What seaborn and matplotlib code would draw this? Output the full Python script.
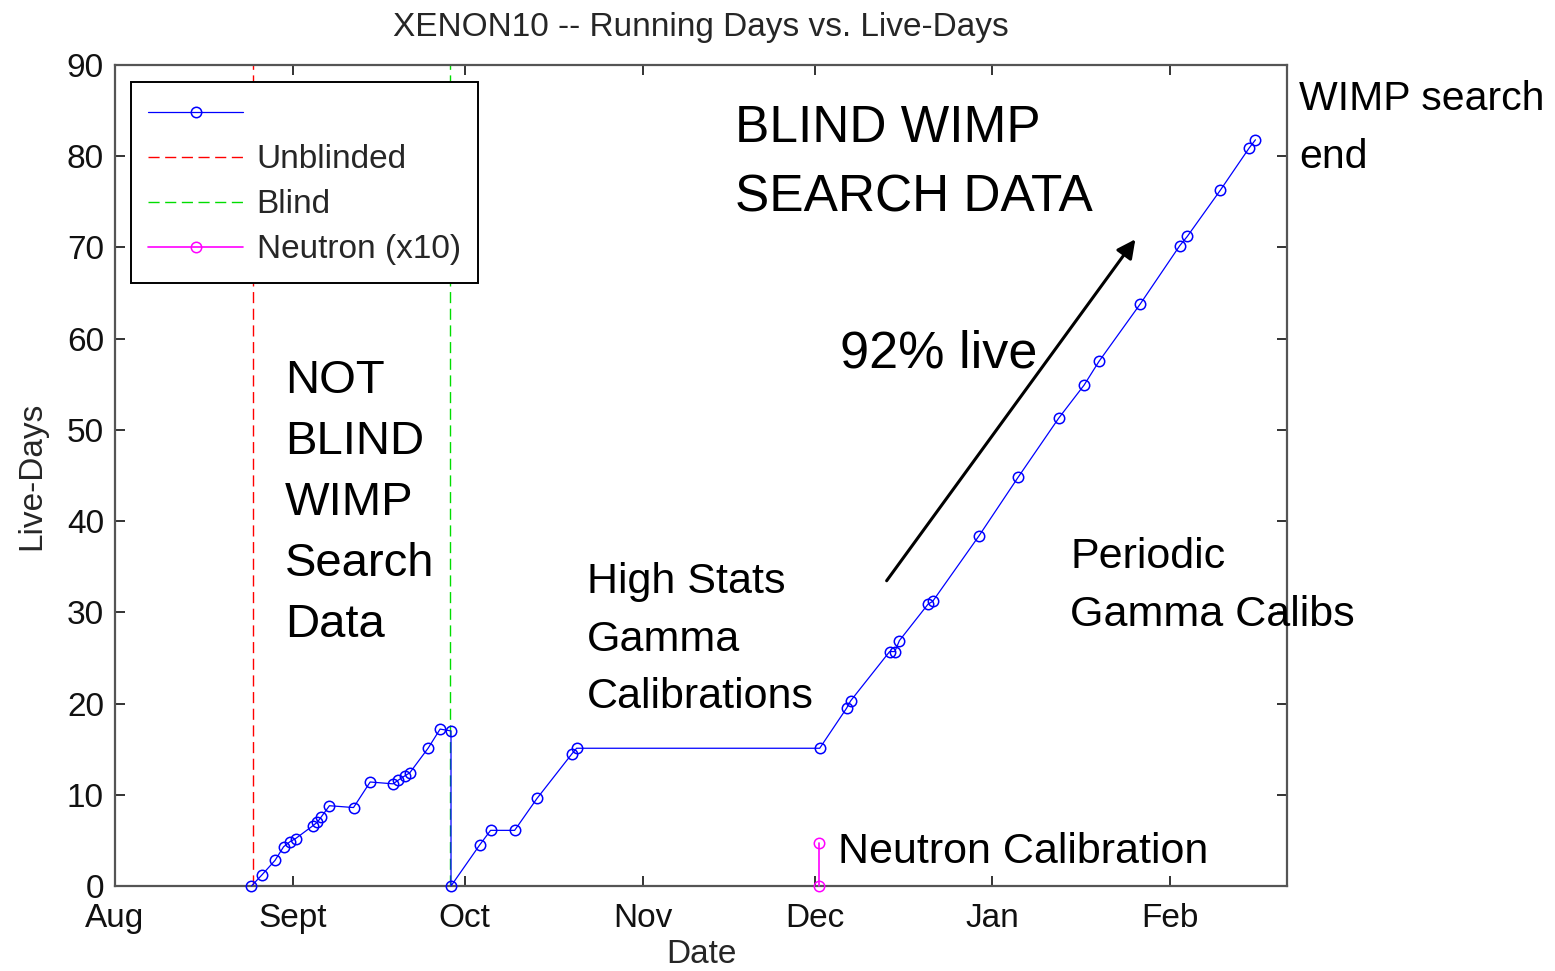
import pandas as pd
import matplotlib
matplotlib.use('Agg')
from matplotlib import pyplot as plt
import seaborn as sns

sns.set_style('ticks')
plt.rcParams['font.family'] = ['Liberation Sans', 'DejaVu Sans']

start = pd.Timestamp('2006-08-01')

# days after Aug 1 and accumulated live-days
run_days = [23.8, 25.6, 27.9, 29.4, 30.5, 31.5, 34.5, 35.3, 36.0, 37.4,
            41.6, 44.5, 48.5, 49.4, 50.6, 51.4, 54.6, 56.7, 58.6, 58.6,
            63.6, 65.5, 69.7, 73.6, 79.7, 80.5, 122.9, 127.6, 128.3, 135.1,
            136.0, 136.8, 141.8, 142.6, 150.7, 157.5, 164.6, 169.0, 171.6, 178.8,
            185.7, 187.0, 192.8, 197.8, 198.9]
live_days = [0.0, 1.2, 2.8, 4.3, 4.85, 5.2, 6.6, 7.0, 7.6, 8.8,
             8.6, 11.4, 11.2, 11.6, 12.1, 12.4, 15.1, 17.2, 17.0, 0.0,
             4.5, 6.1, 6.1, 9.6, 14.5, 15.1, 15.1, 19.5, 20.3, 25.7,
             25.7, 26.9, 30.9, 31.2, 38.4, 44.8, 51.3, 54.9, 57.5, 63.8,
             70.2, 71.2, 76.3, 80.9, 81.8]

unblind_day = 24.1
blind_day = 58.5
neutron_days = [122.8, 122.8]
neutron_live = [0.0, 4.7]

month_labels = ['Aug', 'Sept', 'Oct', 'Nov', 'Dec', 'Jan', 'Feb']
month_starts = pd.date_range('2006-08-01', periods=7, freq='MS')
y_ticks = list(range(0, 100, 10))
legend_labels = ['', 'Unblinded', 'Blind', 'Neutron (x10)']
x_end_day = 204.4


def to_date(days):
    return start + pd.to_timedelta(days, unit='D')


runs = pd.DataFrame({'date': to_date(run_days), 'live': live_days})
neutron = pd.DataFrame({'date': to_date(neutron_days), 'live': neutron_live})
unblind = pd.DataFrame({'date': to_date([unblind_day] * 2), 'live': [0, 90]})
blind = pd.DataFrame({'date': to_date([blind_day] * 2), 'live': [0, 90]})

W, H = 1555, 971
fig = plt.figure(figsize=(W / 100, H / 100), dpi=100)
ax = fig.add_axes([115 / W, 1 - 886 / H, (1287 - 115) / W, (886 - 65) / H])

mk = dict(marker='o', markersize=7.5, markerfacecolor='none', markeredgewidth=1.1)
sns.lineplot(data=runs, x='date', y='live', ax=ax, color='#0000ff', lw=0.9,
             estimator=None, sort=False, clip_on=False, zorder=4,
             markeredgecolor='#0000ff', **mk)
sns.lineplot(data=unblind, x='date', y='live', ax=ax, color='#ff0000', lw=1,
             estimator=None, sort=False)
sns.lineplot(data=blind, x='date', y='live', ax=ax, color='#00dd00', lw=1,
             estimator=None, sort=False)
sns.lineplot(data=neutron, x='date', y='live', ax=ax, color='#ff00ff', lw=1.2,
             estimator=None, sort=False, clip_on=False, zorder=5,
             markeredgecolor='#ff00ff', **mk)
for ln in ax.lines[1:3]:
    ln.set_linestyle((0, (8, 4)))

ax.set_xlim(start, to_date(x_end_day))
ax.set_ylim(0, 90)
ax.set_xticks(month_starts)
ax.set_xticklabels(month_labels)
ax.set_yticks(y_ticks)
ax.tick_params(direction='in', length=7, width=1.2, labelsize=24, colors='#111111',
               top=True, right=True)
ax.tick_params(axis='x', pad=12)
ax.tick_params(axis='y', pad=8)
for sp in ax.spines.values():
    sp.set_visible(True)
    sp.set_color('#555555')
    sp.set_linewidth(1.6)

ax.set_title('XENON10 -- Running Days vs. Live-Days', fontsize=24, pad=21)
ax.set_xlabel('Date', fontsize=24, labelpad=4)
ax.set_ylabel('Live-Days', fontsize=24, labelpad=14)

leg = ax.legend(ax.lines[:4], legend_labels,
                loc='upper left', bbox_to_anchor=((131 - 115) / 1172, (886 - 82) / 821),
                borderaxespad=0, fontsize=24, handlelength=2.85, handletextpad=0.4,
                labelspacing=0.42, borderpad=0.52, fancybox=False, framealpha=1,
                edgecolor='black')
leg.get_frame().set_linewidth(1.4)

ax.annotate('', xy=((1137 - 115) / 1172, (886 - 237) / 821),
            xytext=((885 - 115) / 1172, (886 - 583) / 821),
            xycoords='axes fraction', textcoords='axes fraction',
            arrowprops=dict(arrowstyle='-|>', color='black', lw=2.2, mutation_scale=28))


def put(lines, x, y, step, size):
    for i, line in enumerate(lines):
        fig.text(x / W, 1 - (y + i * step) / H, line, fontsize=size,
                 color='black', ha='left', va='baseline')


put(['NOT', 'BLIND', 'WIMP', 'Search', 'Data'], 285, 393, 61, 34)
put(['BLIND WIMP', 'SEARCH DATA'], 735, 142, 70, 37)
put(['92% live'], 840, 367, 0, 37.5)
put(['High Stats', 'Gamma', 'Calibrations'], 587, 593, 57.5, 31)
put(['Periodic', 'Gamma Calibs'], 1070, 568, 58, 31)
put(['Neutron Calibration'], 838, 863, 0, 31)
put(['WIMP search', 'end'], 1299, 110, 58, 29.5)

fig.savefig('out.png', dpi=100)
